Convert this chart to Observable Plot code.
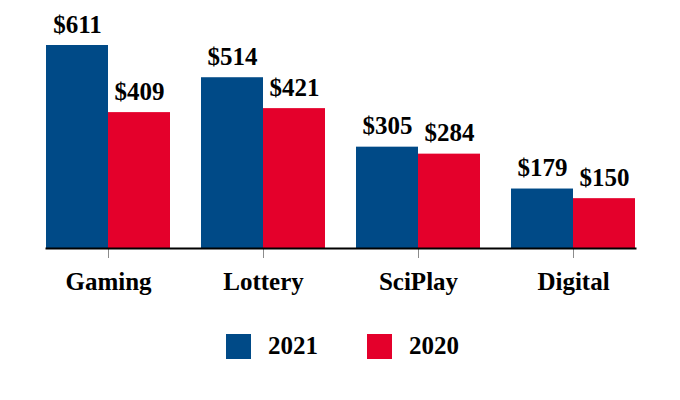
<!DOCTYPE html>
<html><head><meta charset="utf-8">
<script src="https://cdn.jsdelivr.net/npm/d3@7"></script>
<script src="https://cdn.jsdelivr.net/npm/@observablehq/plot@0.6"></script>
<style>
body{margin:0;background:#fff;font-family:"Liberation Serif","Times New Roman",serif;}
#legend{display:flex;justify-content:center;align-items:center;margin-top:22px;margin-left:5px;font-weight:bold;font-size:25px;color:#000;}
.item{display:flex;align-items:center;margin:0 24.5px;}
.sw{width:25px;height:25px;margin-right:17px;}
</style></head><body><div id="chart"></div><div id="legend"></div><script>
const categories = ["Gaming","Lottery","SciPlay","Digital"];
const years = ["2021","2020"];
const values2021 = [611,514,305,179];
const values2020 = [409,421,284,150];
const colors = ["#004a87","#e4002b"];
const data = categories.flatMap((c,i)=>[
  {category:c, year:"2021", value: values2021[i]},
  {category:c, year:"2020", value: values2020[i]}
]);
const dividers = categories.map((c,i)=>({category:c, low: Math.min(values2021[i], values2020[i])}));
const chart = Plot.plot({
  width:680, height:310, marginLeft:30, marginRight:30, marginTop:45, marginBottom:62,
  style:{fontFamily:'"Liberation Serif","Times New Roman",serif', fontWeight:"bold", fontSize:"25px", color:"#000", background:"#fff", overflow:"visible"},
  fx:{domain:categories, paddingInner:0.2, paddingOuter:0.1, axis:null, label:null},
  x:{domain:years, padding:0, axis:null},
  y:{domain:[0, d3.max(data, d=>d.value)], axis:null},
  color:{domain:years, range:colors},
  marks:[
    Plot.barY(data,{fx:"category", x:"year", y:"value", fill:"year"}),
    Plot.ruleX(dividers,{fx:"category", y1:0, y2:"low", stroke:"#8c8c8c", strokeWidth:1}),
    Plot.text(data,{fx:"category", x:"year", y:"value", text:d=>"$"+d.value, lineAnchor:"bottom", dy:-13, fontSize:25, fontWeight:"bold", fill:"#000"}),
    Plot.axisFx({anchor:"bottom", tickSize:10, tickPadding:14, stroke:"#8c8c8c", fill:"#000", fontSize:25, fontWeight:"bold", label:null}),
    Plot.frame({anchor:"bottom", facet:"super", stroke:"#000", strokeWidth:2})
  ]
});
document.getElementById("chart").append(chart);
const legend = document.getElementById("legend");
years.forEach((y,i)=>{
  const it = document.createElement("div"); it.className="item";
  const sw = document.createElement("div"); sw.className="sw"; sw.style.background=colors[i];
  const t = document.createElement("span"); t.textContent=y;
  it.append(sw,t); legend.append(it);
});
</script></body></html>
